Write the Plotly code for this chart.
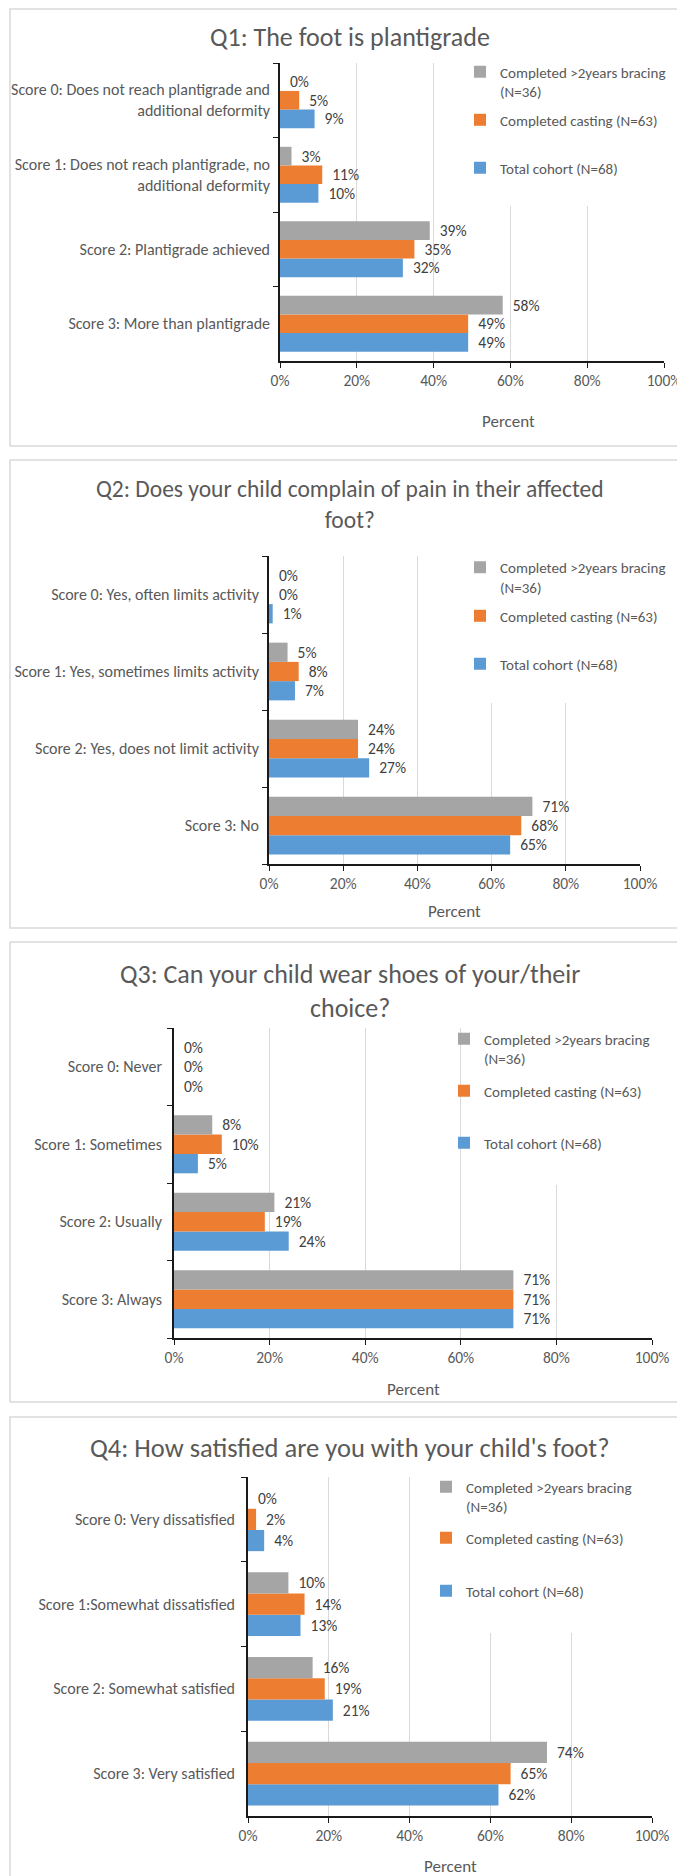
import plotly.graph_objects as go

# ---------------- data ----------------
q1_title = "Q1: The foot is plantigrade"
q1_categories = ["Score 0: Does not reach plantigrade and<br>additional deformity",
                 "Score 1: Does not reach plantigrade, no<br>additional deformity",
                 "Score 2: Plantigrade achieved",
                 "Score 3: More than plantigrade"]
q1_bracing = [0, 3, 39, 58]
q1_casting = [5, 11, 35, 49]
q1_total = [9, 10, 32, 49]

q2_title = "Q2: Does your child complain of pain in their affected<br>foot?"
q2_categories = ["Score 0: Yes, often limits activity",
                 "Score 1: Yes, sometimes limits activity",
                 "Score 2: Yes, does not limit activity",
                 "Score 3: No"]
q2_bracing = [0, 5, 24, 71]
q2_casting = [0, 8, 24, 68]
q2_total = [1, 7, 27, 65]

q3_title = "Q3: Can your child wear shoes of your/their<br>choice?"
q3_categories = ["Score 0: Never", "Score 1: Sometimes", "Score 2: Usually", "Score 3: Always"]
q3_bracing = [0, 8, 21, 71]
q3_casting = [0, 10, 19, 71]
q3_total = [0, 5, 24, 71]

q4_title = "Q4: How satisfied are you with your child's foot?"
q4_categories = ["Score 0: Very dissatisfied", "Score 1:Somewhat dissatisfied",
                 "Score 2: Somewhat satisfied", "Score 3: Very satisfied"]
q4_bracing = [0, 10, 16, 74]
q4_casting = [2, 14, 19, 65]
q4_total = [4, 13, 21, 62]

series_names = ["Total cohort (N=68)", "Completed casting (N=63)", "Completed &gt;2years bracing<br>(N=36)"]
series_colors = ["#5B9BD5", "#ED7D31", "#A5A5A5"]
x_ticks = [0, 20, 40, 60, 80, 100]
axis_title = "Percent"

# ---------------- layout geometry (pixels) ----------------
W, H = 685, 1876
FONT = "Carlito, Calibri, Lato, sans-serif"
GREY_TXT = "#595959"
CAT_SIZE = 16
LBL_SIZE = 15.5
LEG_SIZE = 15
TICK_SIZE = 15.5
AXT_SIZE = 17


def px(x):
    return x / W


def py(y):
    return 1 - y / H


panels = [
    dict(title=q1_title, cats=q1_categories, vals=[q1_total, q1_casting, q1_bracing], tsize=26,
         box=(2, 1, 683, 438), plot=(272, 55, 656, 353), title_y=29, standoff=5,
         ptitle=(500, 414), legend_x=492, legend_y=[73.5, 112, 160], cover=(477, 50, 670, 198)),
    dict(title=q2_title, cats=q2_categories, vals=[q2_total, q2_casting, q2_bracing], tsize=23.5,
         box=(2, 452, 683, 920), plot=(261, 548, 632, 856), title_y=496, standoff=5,
         ptitle=(447, 903), legend_x=492, legend_y=[569, 608, 656], cover=(476, 543, 670, 695)),
    dict(title=q3_title, cats=q3_categories, vals=[q3_total, q3_casting, q3_bracing], tsize=26,
         box=(2, 934, 683, 1394), plot=(166, 1020, 644, 1330), title_y=983, standoff=7,
         ptitle=(405, 1381), legend_x=476, legend_y=[1040.5, 1083, 1135], cover=(461, 1015, 670, 1177)),
    dict(title=q4_title, cats=q4_categories, vals=[q4_total, q4_casting, q4_bracing], tsize=26.5,
         box=(2, 1409, 683, 1874), plot=(240, 1469, 644, 1808), title_y=1440, standoff=8,
         ptitle=(442, 1858), legend_x=458, legend_y=[1488.5, 1530, 1583], cover=(445, 1464, 670, 1625)),
]

fig = go.Figure()
shapes = []
annotations = []
layout_extra = {}
legend_idx = 0

for i, p in enumerate(panels):
    n = i + 1
    xa = "x" if n == 1 else f"x{n}"
    ya = "y" if n == 1 else f"y{n}"
    x0, y0, x1, y1 = p["plot"]
    for s in range(3):
        legend_idx += 1
        lname = "legend" if legend_idx == 1 else f"legend{legend_idx}"
        vals = p["vals"][s]
        fig.add_trace(go.Bar(
            x=vals, y=p["cats"], orientation="h",
            name=series_names[s], marker=dict(color=series_colors[s], line=dict(width=0)),
            xaxis=xa, yaxis=ya, legend=lname,
            text=["\u00a0\u00a0" + str(v) + "%" for v in vals], textposition="outside",
            textfont=dict(family=FONT, size=LBL_SIZE, color="#404040"),
            cliponaxis=False, constraintext="none", hoverinfo="skip",
        ))
        # one legend per series (top->bottom: bracing, casting, total)
        pos = 2 - s
        ly = p["legend_y"][pos]
        layout_extra[lname] = dict(
            x=px(p["legend_x"] - 40), y=py(ly), xanchor="left", yanchor="middle",
            bgcolor="rgba(0,0,0,0)", borderwidth=0, valign="top",
            font=dict(family=FONT, size=LEG_SIZE, color=GREY_TXT),
        )
    axkey_x = "xaxis" if n == 1 else f"xaxis{n}"
    axkey_y = "yaxis" if n == 1 else f"yaxis{n}"
    layout_extra[axkey_x] = dict(
        domain=[px(x0), px(x1)], anchor=ya, range=[0, 100], tickvals=x_ticks,
        ticktext=[f"{t}%" for t in x_ticks], showgrid=True, gridcolor="#D9D9D9", gridwidth=1,
        zeroline=False, showline=True, linecolor="#1a1a1a", linewidth=1.6,
        ticks="outside", ticklen=5, tickcolor="#1a1a1a", tickwidth=1.4, automargin=False,
        tickfont=dict(family=FONT, size=TICK_SIZE, color=GREY_TXT), fixedrange=True,
    )
    layout_extra[axkey_y] = dict(
        domain=[py(y1), py(y0)], anchor=xa, type="category",
        categoryorder="array", categoryarray=list(reversed(p["cats"])),
        showline=True, linecolor="#1a1a1a", linewidth=1.6, ticks="outside", ticklen=5,
        tickcolor="#1a1a1a", tickwidth=1.4, tickson="boundaries", showgrid=False,
        ticklabelstandoff=p["standoff"], automargin=False,
        tickfont=dict(family=FONT, size=CAT_SIZE, color=GREY_TXT), fixedrange=True,
    )
    bx0, by0, bx1, by1 = p["box"]
    shapes.append(dict(type="rect", xref="paper", yref="paper", x0=px(bx0), x1=px(bx1),
                       y0=py(by1), y1=py(by0), line=dict(color="#D9D9D9", width=1.5),
                       fillcolor="rgba(0,0,0,0)", layer="below"))
    cx0, cy0, cx1, cy1 = p["cover"]
    shapes.append(dict(type="rect", xref="paper", yref="paper", x0=px(cx0), x1=px(cx1),
                       y0=py(cy1), y1=py(cy0), line=dict(width=0),
                       fillcolor="white", layer="above"))
    annotations.append(dict(text=p["title"], xref="paper", yref="paper", x=px(342), y=py(p["title_y"]),
                            xanchor="center", yanchor="middle", showarrow=False,
                            font=dict(family=FONT, size=p["tsize"], color=GREY_TXT)))
    annotations.append(dict(text=axis_title, xref="paper", yref="paper", x=px(p["ptitle"][0]),
                            y=py(p["ptitle"][1]), xanchor="center", yanchor="middle", showarrow=False,
                            font=dict(family=FONT, size=AXT_SIZE, color=GREY_TXT)))

fig.update_layout(
    width=W, height=H, margin=dict(l=0, r=0, t=0, b=0, autoexpand=False),
    paper_bgcolor="white", plot_bgcolor="white",
    barmode="group", bargap=0.25, bargroupgap=0,
    shapes=shapes, annotations=annotations, showlegend=True,
    font=dict(family=FONT, color=GREY_TXT),
    **layout_extra,
)

fig.write_html("out.html")
